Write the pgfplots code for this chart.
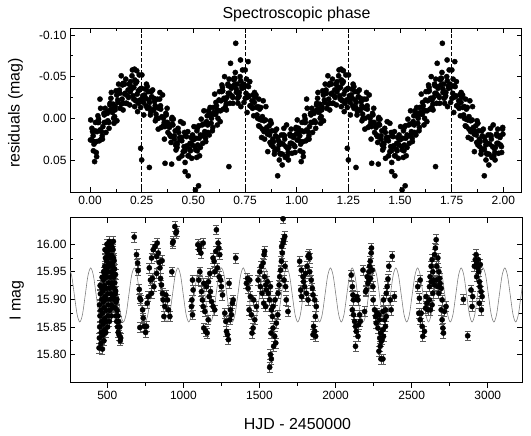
\documentclass[border=0pt]{standalone}
\usepackage{pgfplots}
\pgfplotsset{compat=1.18}
\usepackage{pgfplotstable}
\usepackage{fontspec}
\setmainfont{Liberation Sans}

% residuals folded on the spectroscopic period (phase 0-1, plotted twice)
\pgfplotstableread[row sep=\\]{ph res\\
0.003 0.002\\0.008 0.026\\0.012 0.016\\0.016 0.039\\0.019 0.031\\
0.021 0.028\\0.026 0.005\\0.030 0.041\\0.034 0.016\\0.038 -0.003\\
0.042 0.005\\0.045 0.027\\0.051 -0.012\\0.055 0.016\\0.059 0.021\\
0.060 0.025\\0.067 -0.006\\0.069 0.005\\0.073 -0.012\\0.077 0.017\\
0.084 -0.006\\0.086 0.003\\0.092 0.012\\0.096 -0.016\\0.098 -0.010\\
0.103 -0.031\\0.108 -0.007\\0.112 -0.017\\0.116 0.006\\0.119 -0.002\\
0.121 -0.010\\0.126 -0.033\\0.130 0.003\\0.134 -0.022\\0.138 -0.041\\
0.142 -0.034\\0.145 -0.012\\0.151 -0.051\\0.155 -0.023\\0.159 -0.018\\
0.160 -0.010\\0.167 -0.041\\0.169 -0.030\\0.173 -0.047\\0.177 -0.018\\
0.184 -0.034\\0.186 -0.025\\0.192 -0.016\\0.196 -0.044\\0.198 -0.038\\
0.203 -0.051\\0.208 -0.027\\0.212 -0.037\\0.216 -0.014\\0.219 -0.022\\
0.221 -0.021\\0.226 -0.044\\0.230 -0.008\\0.234 -0.033\\0.238 -0.052\\
0.242 -0.035\\0.245 -0.013\\0.251 -0.052\\0.255 -0.024\\0.259 -0.019\\
0.260 -0.004\\0.267 -0.035\\0.269 -0.024\\0.273 -0.041\\0.277 -0.012\\
0.284 -0.022\\0.286 -0.013\\0.292 -0.004\\0.296 -0.032\\0.298 -0.026\\
0.303 -0.034\\0.308 -0.010\\0.312 -0.020\\0.316 0.003\\0.319 -0.005\\
0.321 0.000\\0.326 -0.023\\0.330 0.013\\0.334 -0.012\\0.338 -0.031\\
0.342 -0.011\\0.345 0.011\\0.351 -0.028\\0.355 0.000\\0.359 0.005\\
0.360 0.025\\0.367 -0.006\\0.369 0.005\\0.373 -0.012\\0.377 0.017\\
0.384 0.011\\0.386 0.020\\0.392 0.029\\0.396 0.001\\0.398 0.007\\
0.403 0.001\\0.408 0.025\\0.412 0.015\\0.416 0.038\\0.419 0.030\\
0.421 0.035\\0.426 0.012\\0.430 0.048\\0.434 0.023\\0.438 0.004\\
0.442 0.023\\0.445 0.045\\0.451 0.006\\0.455 0.034\\0.459 0.039\\
0.460 0.053\\0.467 0.022\\0.469 0.033\\0.473 0.016\\0.477 0.045\\
0.484 0.030\\0.486 0.039\\0.492 0.048\\0.496 0.020\\0.498 0.026\\
0.503 0.010\\0.508 0.034\\0.512 0.024\\0.516 0.047\\0.519 0.039\\
0.521 0.032\\0.526 0.009\\0.530 0.045\\0.534 0.020\\0.538 0.001\\
0.542 0.008\\0.545 0.030\\0.551 -0.009\\0.555 0.019\\0.559 0.024\\
0.560 0.028\\0.567 -0.003\\0.569 0.008\\0.573 -0.009\\0.577 0.020\\
0.584 -0.003\\0.586 0.006\\0.592 0.015\\0.596 -0.013\\0.598 -0.007\\
0.603 -0.029\\0.608 -0.005\\0.612 -0.015\\0.616 0.008\\0.619 0.000\\
0.621 -0.009\\0.626 -0.032\\0.630 0.004\\0.634 -0.021\\0.638 -0.040\\
0.642 -0.033\\0.645 -0.011\\0.651 -0.050\\0.655 -0.022\\0.659 -0.017\\
0.660 -0.010\\0.667 -0.041\\0.669 -0.030\\0.673 -0.047\\0.677 -0.018\\
0.684 -0.036\\0.686 -0.027\\0.692 -0.018\\0.696 -0.046\\0.698 -0.040\\
0.703 -0.055\\0.708 -0.031\\0.712 -0.041\\0.716 -0.018\\0.719 -0.026\\
0.721 -0.027\\0.726 -0.050\\0.730 -0.014\\0.734 -0.039\\0.738 -0.058\\
0.742 -0.041\\0.745 -0.019\\0.751 -0.058\\0.755 -0.030\\0.759 -0.025\\
0.760 -0.007\\0.767 -0.038\\0.769 -0.027\\0.773 -0.044\\0.777 -0.015\\
0.784 -0.021\\0.786 -0.012\\0.792 -0.003\\0.796 -0.031\\0.798 -0.025\\
0.803 -0.028\\0.808 -0.004\\0.812 -0.014\\0.816 0.009\\0.819 0.001\\
0.821 0.010\\0.826 -0.013\\0.830 0.023\\0.834 -0.002\\0.838 -0.021\\
0.842 0.003\\0.845 0.025\\0.851 -0.014\\0.855 0.014\\0.859 0.019\\
0.860 0.040\\0.867 0.009\\0.869 0.020\\0.873 0.003\\0.877 0.032\\
0.884 0.025\\0.886 0.034\\0.892 0.043\\0.896 0.015\\0.898 0.021\\
0.903 0.013\\0.908 0.037\\0.912 0.027\\0.916 0.050\\0.919 0.042\\
0.921 0.043\\0.926 0.020\\0.930 0.056\\0.934 0.031\\0.938 0.012\\
0.942 0.025\\0.945 0.047\\0.951 0.008\\0.955 0.036\\0.959 0.041\\
0.960 0.050\\0.967 0.019\\0.969 0.030\\0.973 0.013\\0.977 0.042\\
0.984 0.023\\0.986 0.032\\0.992 0.041\\0.996 0.013\\0.998 0.019\\
0.002 0.026\\0.009 0.012\\0.015 0.021\\0.024 0.015\\0.031 0.028\\0.037 0.005\\
0.041 0.001\\0.048 0.014\\0.054 0.025\\0.062 0.010\\0.069 -0.004\\0.075 0.005\\
0.084 -0.008\\0.091 0.005\\0.097 -0.018\\0.101 -0.024\\0.108 -0.011\\0.114 0.000\\
0.122 -0.014\\0.129 -0.028\\0.135 -0.019\\0.144 -0.030\\0.151 -0.017\\0.157 -0.040\\
0.161 -0.042\\0.168 -0.029\\0.174 -0.018\\0.182 -0.027\\0.189 -0.041\\0.195 -0.032\\
0.204 -0.036\\0.211 -0.023\\0.217 -0.046\\0.221 -0.042\\0.228 -0.029\\0.234 -0.018\\
0.242 -0.022\\0.249 -0.036\\0.255 -0.027\\0.264 -0.028\\0.271 -0.015\\0.277 -0.038\\
0.281 -0.032\\0.288 -0.019\\0.294 -0.008\\0.302 -0.010\\0.309 -0.024\\0.315 -0.015\\
0.324 -0.013\\0.331 0.000\\0.337 -0.023\\0.341 -0.015\\0.348 -0.002\\0.354 0.009\\
0.362 0.010\\0.369 -0.004\\0.375 0.005\\0.384 0.009\\0.391 0.022\\0.397 -0.001\\
0.401 0.008\\0.408 0.021\\0.414 0.032\\0.422 0.031\\0.429 0.017\\0.435 0.026\\
0.444 0.027\\0.451 0.040\\0.457 0.017\\0.461 0.021\\0.468 0.034\\0.474 0.045\\
0.482 0.037\\0.489 0.023\\0.495 0.032\\0.504 0.025\\0.511 0.038\\0.517 0.015\\
0.521 0.011\\0.528 0.024\\0.534 0.035\\0.542 0.021\\0.549 0.007\\0.555 0.016\\
0.564 0.004\\0.571 0.017\\0.577 -0.006\\0.581 -0.013\\0.588 0.000\\0.594 0.011\\
0.602 -0.005\\0.609 -0.019\\0.615 -0.010\\0.624 -0.022\\0.631 -0.009\\0.637 -0.032\\
0.641 -0.037\\0.648 -0.024\\0.654 -0.013\\0.662 -0.025\\0.669 -0.039\\0.675 -0.030\\
0.684 -0.038\\0.691 -0.025\\0.697 -0.048\\0.701 -0.048\\0.708 -0.035\\0.714 -0.024\\
0.722 -0.031\\0.729 -0.045\\0.735 -0.036\\0.744 -0.037\\0.751 -0.024\\0.757 -0.047\\
0.761 -0.039\\0.768 -0.026\\0.774 -0.015\\0.782 -0.014\\0.789 -0.028\\0.795 -0.019\\
0.804 -0.013\\0.811 0.000\\0.817 -0.023\\0.821 -0.011\\0.828 0.002\\0.834 0.013\\
0.842 0.016\\0.849 0.002\\0.855 0.011\\0.864 0.016\\0.871 0.029\\0.877 0.006\\
0.881 0.015\\0.888 0.028\\0.894 0.039\\0.902 0.037\\0.909 0.023\\0.915 0.032\\
0.924 0.030\\0.931 0.043\\0.937 0.020\\0.941 0.021\\0.948 0.034\\0.954 0.045\\
0.962 0.035\\0.969 0.021\\0.975 0.030\\0.984 0.021\\0.991 0.034\\0.997 0.011\\
0.032 0.046\\0.022 0.052\\0.048 -0.023\\0.205 -0.058\\0.215 -0.059\\0.226 -0.057\\
0.250 0.050\\0.287 0.059\\0.245 0.036\\0.363 0.054\\0.395 0.055\\0.460 0.064\\
0.475 0.069\\0.510 0.086\\0.525 0.081\\0.672 0.058\\0.705 -0.090\\0.680 -0.066\\
0.728 -0.070\\0.765 -0.068\\0.908 0.069\\
}\phdata

\pgfplotsset{
  every axis/.append style={
    scale only axis,
    scaled ticks=false,
    tick align=inside,
    major tick length=5bp,
    minor tick length=3bp,
    axis line style={line width=0.8bp},
    tick style={line width=0.7bp, black},
    tick label style={font=\fontsize{12}{14}\selectfont},
    /pgf/number format/assume math mode=true,
    /pgf/number format/1000 sep={},
  },
}

\begin{document}
\begin{tikzpicture}[x=1bp,y=1bp]
\useasboundingbox (0,0) rectangle (531,436);

% upper panel: residuals vs spectroscopic phase
\begin{axis}[
    at={(70bp,243.7bp)}, anchor=south west,
    width=451.7bp, height=164bp,
    xmin=-0.097, xmax=2.089,
    ymin=-0.108, ymax=0.0888, y dir=reverse,
    xtick={0,0.25,...,2}, minor x tick num=1,
    ytick={-0.1,-0.05,0,0.05}, minor y tick num=1,
    xticklabel style={/pgf/number format/fixed, /pgf/number format/fixed zerofill, /pgf/number format/precision=2},
    yticklabel style={/pgf/number format/fixed, /pgf/number format/fixed zerofill, /pgf/number format/precision=2},
]
\addplot[black, line width=0.8bp, dash pattern=on 4bp off 2bp] coordinates {(0.25,-0.108) (0.25,0.0888)};
\addplot[black, line width=0.8bp, dash pattern=on 4bp off 2bp] coordinates {(0.75,-0.108) (0.75,0.0888)};
\addplot[black, line width=0.8bp, dash pattern=on 4bp off 2bp] coordinates {(1.25,-0.108) (1.25,0.0888)};
\addplot[black, line width=0.8bp, dash pattern=on 4bp off 2bp] coordinates {(1.75,-0.108) (1.75,0.0888)};
\addplot[only marks, mark=*, mark size=2.6bp, black] table[x=ph, y=res] {\phdata};
\addplot[only marks, mark=*, mark size=2.6bp, black] table[x expr=\thisrow{ph}+1, y=res] {\phdata};
\end{axis}

% lower panel: light curve
\begin{axis}[
    at={(70bp,53.3bp)}, anchor=south west,
    width=452bp, height=165bp,
    xmin=255, xmax=3225,
    ymin=15.749, ymax=16.048,
    xtick={500,750,...,3000}, xtick pos=right, xticklabels={},
    ytick={15.80,15.85,15.90,15.95,16.00}, minor y tick num=1,
    yticklabel style={/pgf/number format/fixed, /pgf/number format/fixed zerofill, /pgf/number format/precision=2},
]
\addplot[gray, line width=0.6bp, smooth] coordinates {
(247.8,15.957) (265.7,15.943) (283.6,15.908) (301.5,15.873) (319.4,15.859) (337.3,15.873) (355.2,15.908) (373.1,15.943)
(391.0,15.957) (408.9,15.943) (426.8,15.908) (444.7,15.873) (462.6,15.859) (480.5,15.873) (498.4,15.908) (516.3,15.943)
(534.2,15.957) (552.1,15.943) (570.0,15.908) (587.9,15.873) (605.8,15.859) (623.7,15.873) (641.6,15.908) (659.5,15.943)
(677.4,15.957) (695.3,15.943) (713.2,15.908) (731.1,15.873) (749.0,15.859) (766.9,15.873) (784.8,15.908) (802.7,15.943)
(820.6,15.957) (838.5,15.943) (856.4,15.908) (874.3,15.873) (892.2,15.859) (910.1,15.873) (928.0,15.908) (945.9,15.943)
(963.8,15.957) (981.7,15.943) (999.6,15.908) (1017.5,15.873) (1035.4,15.859) (1053.3,15.873) (1071.2,15.908) (1089.1,15.943)
(1107.0,15.957) (1124.9,15.943) (1142.8,15.908) (1160.7,15.873) (1178.6,15.859) (1196.5,15.873) (1214.4,15.908) (1232.3,15.943)
(1250.2,15.957) (1268.1,15.943) (1286.0,15.908) (1303.9,15.873) (1321.8,15.859) (1339.7,15.873) (1357.6,15.908) (1375.5,15.943)
(1393.4,15.957) (1411.3,15.943) (1429.2,15.908) (1447.1,15.873) (1465.0,15.859) (1482.9,15.873) (1500.8,15.908) (1518.7,15.943)
(1536.6,15.957) (1554.5,15.943) (1572.4,15.908) (1590.3,15.873) (1608.2,15.859) (1626.1,15.873) (1644.0,15.908) (1661.9,15.943)
(1679.8,15.957) (1697.7,15.943) (1715.6,15.908) (1733.5,15.873) (1751.4,15.859) (1769.3,15.873) (1787.2,15.908) (1805.1,15.943)
(1823.0,15.957) (1840.9,15.943) (1858.8,15.908) (1876.7,15.873) (1894.6,15.859) (1912.5,15.873) (1930.4,15.908) (1948.3,15.943)
(1966.2,15.957) (1984.1,15.943) (2002.0,15.908) (2019.9,15.873) (2037.8,15.859) (2055.7,15.873) (2073.6,15.908) (2091.5,15.943)
(2109.4,15.957) (2127.3,15.943) (2145.2,15.908) (2163.1,15.873) (2181.0,15.859) (2198.9,15.873) (2216.8,15.908) (2234.7,15.943)
(2252.6,15.957) (2270.5,15.943) (2288.4,15.908) (2306.3,15.873) (2324.2,15.859) (2342.1,15.873) (2360.0,15.908) (2377.9,15.943)
(2395.8,15.957) (2413.7,15.943) (2431.6,15.908) (2449.5,15.873) (2467.4,15.859) (2485.3,15.873) (2503.2,15.908) (2521.1,15.943)
(2539.0,15.957) (2556.9,15.943) (2574.8,15.908) (2592.7,15.873) (2610.6,15.859) (2628.5,15.873) (2646.4,15.908) (2664.3,15.943)
(2682.2,15.957) (2700.1,15.943) (2718.0,15.908) (2735.9,15.873) (2753.8,15.859) (2771.7,15.873) (2789.6,15.908) (2807.5,15.943)
(2825.4,15.957) (2843.3,15.943) (2861.2,15.908) (2879.1,15.873) (2897.0,15.859) (2914.9,15.873) (2932.8,15.908) (2950.7,15.943)
(2968.6,15.957) (2986.5,15.943) (3004.4,15.908) (3022.3,15.873) (3040.2,15.859) (3058.1,15.873) (3076.0,15.908) (3093.9,15.943)
(3111.8,15.957) (3129.7,15.943) (3147.6,15.908) (3165.5,15.873) (3183.4,15.859) (3201.3,15.873) (3219.2,15.908) (3237.1,15.943)
(3255.0,15.957)
};
\addplot[only marks, mark=*, mark size=2.6bp, black,
    error bars/.cd, y dir=both, y fixed=0.009,
    error bar style={line width=0.6bp, black!65},
    error mark options={rotate=90, mark size=3bp, line width=0.6bp, black!65}]
coordinates {
(446,15.812) (448,15.83) (450,15.85) (452,15.87) (449,15.89) (455,15.91) (453,15.925) (458,15.82) (460,15.84) (462,15.86)
(457,15.88) (463,15.90) (465,15.92) (466,15.94) (468,15.81) (470,15.835) (472,15.855) (469,15.875) (474,15.895) (471,15.915)
(475,15.935) (476,15.95) (478,15.825) (480,15.845) (482,15.865) (479,15.885) (484,15.905) (481,15.925) (486,15.945) (483,15.96)
(488,15.975) (485,15.99) (490,15.84) (492,15.86) (494,15.88) (491,15.9) (496,15.92) (493,15.94) (497,15.955) (495,15.97)
(499,15.985) (498,16.0) (502,15.85) (504,15.87) (506,15.89) (503,15.91) (508,15.93) (505,15.95) (510,15.965) (507,15.98)
(511,15.995) (513,16.005) (514,15.86) (516,15.88) (518,15.90) (515,15.92) (520,15.94) (517,15.96) (522,15.975) (519,15.99)
(523,16.0) (526,15.87) (528,15.89) (525,15.91) (530,15.93) (527,15.95) (532,15.965) (529,15.98) (531,15.995) (535,15.885)
(537,15.905) (534,15.925) (539,15.945) (536,15.96) (541,15.975) (538,15.99) (540,16.005) (544,15.90) (546,15.92) (543,15.94)
(548,15.955) (545,15.97) (550,15.885) (552,15.91) (549,15.93) (554,15.945) (556,15.87) (558,15.895) (555,15.915) (562,15.86)
(565,15.88) (563,15.90) (568,15.85) (570,15.87) (572,15.84) (575,15.86) (578,15.835) (582,15.85) (585,15.825) (588,15.83)
(677,16.013)
(692,15.981) (699,15.966) (703,15.952) (710,15.918) (714,15.902) (720,15.899) (732,15.881) (736,15.866) (743,15.851) (714,15.849)
(752,15.84) (758,15.851) (762,15.893) (769,15.905)
(776,15.957) (784,15.935) (797,15.938) (791,15.975) (802,15.99) (813,15.996) (824,15.978) (828,16.002) (835,15.984) (841,15.967)
(846,15.957) (850,15.938) (856,15.926) (863,15.911) (867,15.899) (878,15.887) (872,15.869) (885,15.908) (896,15.899) (902,15.881)
(911,15.869) (860,15.97) (824,15.947) (806,15.923) (791,15.911)
(924,15.95) (929,16.002) (933,16.005) (944,16.032) (951,16.02) (955,16.023)
(1060,15.935) (1064,15.917) (1056,15.899) (1053,15.887) (1060,15.872)
(1095,15.999) (1108,15.996) (1104,15.99) (1115,15.984) (1108,15.95) (1101,15.935) (1130,16.002) (1134,15.929)
(1119,15.914) (1125,15.899) (1130,15.887) (1141,15.878) (1134,15.848) (1147,15.842) (1156,15.839) (1163,15.863) (1169,15.905) (1178,15.914)
(1185,15.896) (1195,15.887) (1206,15.881) (1152,15.923) (1165,15.932) (1174,15.947)
(1195,15.975) (1202,15.969) (1213,15.987) (1217,16.026) (1228,16.002) (1233,15.993) (1239,15.981) (1224,15.957) (1206,15.95) (1235,15.941)
(1244,15.935) (1250,15.923) (1257,15.908)
(1272,15.875) (1279,15.86) (1283,15.842) (1290,15.836) (1296,15.827) (1305,15.863) (1309,15.881) (1316,15.872) (1322,15.893) (1300,15.929)
(1327,15.899)
(1344,15.975)
(1436,15.935) (1425,15.92) (1440,15.905) (1432,15.881) (1447,15.872) (1458,15.848) (1451,15.839) (1469,15.863) (1462,15.899) (1480,15.887)
(1414,15.929) (1421,15.938)
(1491,15.935) (1502,15.95) (1513,15.96) (1524,15.966) (1530,15.981) (1534,15.941) (1541,15.926) (1545,15.917) (1552,15.932) (1558,15.911)
(1567,15.899) (1572,15.923) (1517,15.911) (1528,15.893) (1541,15.887) (1506,15.923) (1534,15.987)
(1578,15.881) (1585,15.869) (1589,15.848) (1576,15.839) (1600,15.833) (1607,15.821) (1593,15.815) (1572,15.8) (1578,15.792) (1567,15.777)
(1611,15.857) (1620,15.872) (1602,15.899) (1589,15.887)
(1622,15.911) (1629,15.926) (1633,15.941) (1639,15.953) (1644,15.969) (1650,15.984) (1655,16.002) (1659,16.008) (1666,16.014) (1655,16.046)
(1646,15.996) (1661,15.935) (1668,15.96) (1672,15.923) (1676,15.899) (1687,15.878)
(1764,15.969) (1775,15.953) (1771,15.917) (1777,15.905) (1786,15.941) (1790,15.932) (1803,15.947) (1812,15.96) (1819,15.978) (1825,15.981)
(1830,15.975) (1797,15.923) (1808,15.911) (1819,15.899) (1830,15.95) (1840,15.935) (1847,15.92) (1852,15.908)
(1856,15.851) (1863,15.842) (1852,15.836) (1869,15.833) (1863,15.899) (1873,15.887) (1867,15.869)
(2103,15.944) (2110,15.923) (2114,15.908) (2118,15.899) (2110,15.881) (2118,15.872) (2125,15.86) (2131,15.851) (2136,15.842) (2131,15.815)
(2147,15.833) (2151,15.854) (2158,15.872) (2162,15.86) (2140,15.905) (2147,15.899)
(2180,15.953) (2191,15.878) (2197,15.914) (2202,15.917) (2212,15.929) (2219,15.935) (2223,15.96) (2228,15.969) (2234,15.984) (2236,15.993)
(2230,15.938) (2241,15.953) (2245,15.923) (2247,15.899) (2219,15.95) (2208,15.941)
(2256,15.881) (2263,15.869) (2267,15.857) (2274,15.875) (2278,15.848) (2285,15.872) (2289,15.863) (2296,15.839) (2290,15.83) (2300,15.824)
(2293,15.815) (2285,15.806) (2298,15.792) (2311,15.792) (2306,15.827) (2311,15.845) (2315,15.833) (2322,15.863) (2328,15.881) (2315,15.899)
(2311,15.878)
(2333,15.911) (2339,15.923) (2344,15.937) (2350,15.96) (2359,15.899) (2365,15.881) (2372,15.978) (2387,15.905) (2333,15.869) (2328,15.851)
(2540,15.923) (2547,15.875) (2556,15.863) (2562,15.875) (2551,15.902) (2556,15.935) (2569,15.851) (2573,15.833) (2591,15.884) (2595,15.905)
(2600,15.893) (2584,15.842) (2606,15.881)
(2617,15.923) (2621,15.941) (2628,15.96) (2634,15.972) (2639,15.95) (2645,15.935) (2650,15.981) (2656,15.993) (2661,16.008) (2665,15.96)
(2672,15.975) (2678,15.95) (2683,15.938) (2687,15.929) (2694,15.92) (2639,15.911) (2650,15.926) (2661,15.935) (2672,15.923) (2678,15.911)
(2628,15.932) (2617,15.899) (2634,15.89) (2623,15.881)
(2694,15.881) (2700,15.863) (2705,15.848) (2709,15.839) (2715,15.878) (2726,15.887) (2700,15.899)
(2840,15.9) (2868,15.834)
(2890,15.917) (2901,15.905) (2897,15.887) (2912,15.96) (2918,15.972) (2923,15.981) (2927,15.966) (2934,15.957) (2940,15.95) (2945,15.932)
(2949,15.923) (2956,15.914) (2963,15.905) (2958,15.881) (2945,15.893) (2927,15.941) (2938,15.972) (2951,15.963)
};
\end{axis}

% bottom ticks of the lower panel point outwards
\begin{axis}[
    at={(70bp,53.3bp)}, anchor=south west,
    width=452bp, height=165bp,
    xmin=255, xmax=3225, ymin=0, ymax=1,
    hide y axis, axis x line*=bottom,
    tick align=outside,
    xtick={500,1000,...,3000}, minor x tick num=1,
]
\end{axis}

\node[anchor=base, font=\fontsize{16}{19}\selectfont] at (296.5,417.3) {Spectroscopic phase};
\node[anchor=base, font=\fontsize{16}{19}\selectfont] at (297.5,6.7) {HJD - 2450000};
\node[anchor=base, rotate=90, font=\fontsize{16}{19}\selectfont] at (19.5,323) {residuals (mag)};
\node[anchor=base, rotate=90, font=\fontsize{16}{19}\selectfont] at (20.5,135.8) {I mag};
\end{tikzpicture}
\end{document}
